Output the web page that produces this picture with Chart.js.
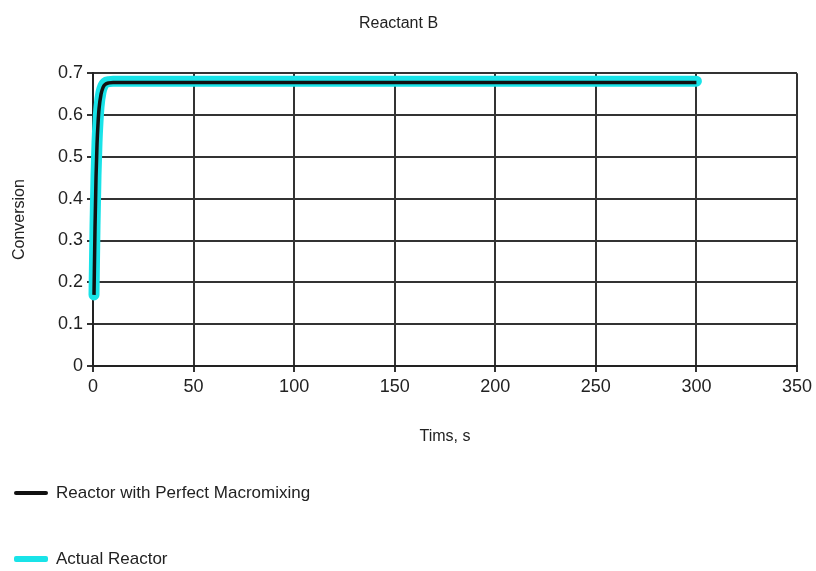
<!DOCTYPE html>
<html>
<head>
<meta charset="utf-8">
<script src="https://cdn.jsdelivr.net/npm/chart.js@4/dist/chart.umd.min.js"></script>
<style>
  body { margin: 0; background: #fff; }
  #wrap { position: relative; width: 816px; height: 571px; }
  .legend { position: absolute; left: 14px; font-family: "Liberation Sans", Arial, sans-serif; font-size: 17px; color: #222; display: flex; align-items: center; }
  .legend span.swatch { display: inline-block; width: 34px; height: 4px; margin-right: 8px; border-radius: 2px; }
</style>
</head>
<body>
<div id="wrap">
  <canvas id="chart" width="816" height="571"></canvas>
  <div class="legend" style="top: 483px;"><span class="swatch" style="background:#111;"></span>Reactor with Perfect Macromixing</div>
  <div class="legend" style="top: 549px;"><span class="swatch" style="background:#19e3e8;height:6px;"></span>Actual Reactor</div>
</div>
<script>
const times = [0.5, 1, 1.5, 2, 2.5, 3, 4, 5, 6, 8, 10, 20, 50, 100, 150, 200, 250, 300];
const perfectMacro = [0.17, 0.33, 0.45, 0.53, 0.58, 0.615, 0.65, 0.666, 0.673, 0.677, 0.678, 0.678, 0.678, 0.678, 0.678, 0.678, 0.678, 0.678];
const actualReactor = [0.17, 0.335, 0.455, 0.535, 0.585, 0.62, 0.655, 0.67, 0.677, 0.68, 0.681, 0.681, 0.681, 0.681, 0.681, 0.681, 0.681, 0.681];
const xTicks = [0, 50, 100, 150, 200, 250, 300, 350];
const yTicks = [0, 0.1, 0.2, 0.3, 0.4, 0.5, 0.6, 0.7];

const font = "'Liberation Sans', Arial, sans-serif";
const pts = (ys) => times.map((t, i) => ({ x: t, y: ys[i] }));

new Chart(document.getElementById("chart").getContext("2d"), {
  type: "line",
  data: {
    datasets: [
      {
        label: "Reactor with Perfect Macromixing",
        data: pts(perfectMacro),
        borderColor: "#111",
        borderWidth: 3.5,
        pointRadius: 0,
        clip: false,
        cubicInterpolationMode: "monotone",
      },
      {
        label: "Actual Reactor",
        data: pts(actualReactor),
        borderColor: "#19e3e8",
        borderWidth: 11,
        borderCapStyle: "round",
        borderJoinStyle: "round",
        pointRadius: 0,
        clip: false,
        cubicInterpolationMode: "monotone",
      },
    ],
  },
  options: {
    responsive: false,
    animation: false,
    layout: { padding: { left: 0, right: 19, top: 0, bottom: 121 } },
    plugins: {
      legend: { display: false },
      tooltip: { enabled: false },
      title: {
        display: true,
        text: "Reactant B",
        color: "#222",
        font: { family: font, size: 16, weight: "normal" },
        padding: { top: 14, bottom: 40 },
      },
    },
    scales: {
      x: {
        type: "linear",
        min: 0,
        max: 350,
        afterBuildTicks: (s) => { s.ticks = xTicks.map((v) => ({ value: v })); },
        afterFit: (s) => { s.height = 84; },
        grid: { color: "#333", lineWidth: 2, tickLength: 6, drawTicks: true },
        border: { color: "#222", width: 2 },
        ticks: { color: "#222", font: { family: font, size: 18 }, padding: 4 },
        title: {
          display: true,
          text: "Tims, s",
          color: "#222",
          font: { family: font, size: 16 },
          padding: { top: 0, bottom: 4 },
        },
      },
      y: {
        min: 0,
        max: 0.7,
        afterBuildTicks: (s) => { s.ticks = yTicks.map((v) => ({ value: v })); },
        afterFit: (s) => { s.width = 93; },
        grid: { color: "#333", lineWidth: 2, tickLength: 6 },
        border: { color: "#222", width: 2 },
        ticks: { color: "#222", font: { family: font, size: 18 }, padding: 4 },
        title: {
          display: true,
          text: "Conversion",
          color: "#222",
          font: { family: font, size: 16 },
          padding: { top: 10, bottom: 0 },
        },
      },
    },
  },
});
</script>
</body>
</html>
